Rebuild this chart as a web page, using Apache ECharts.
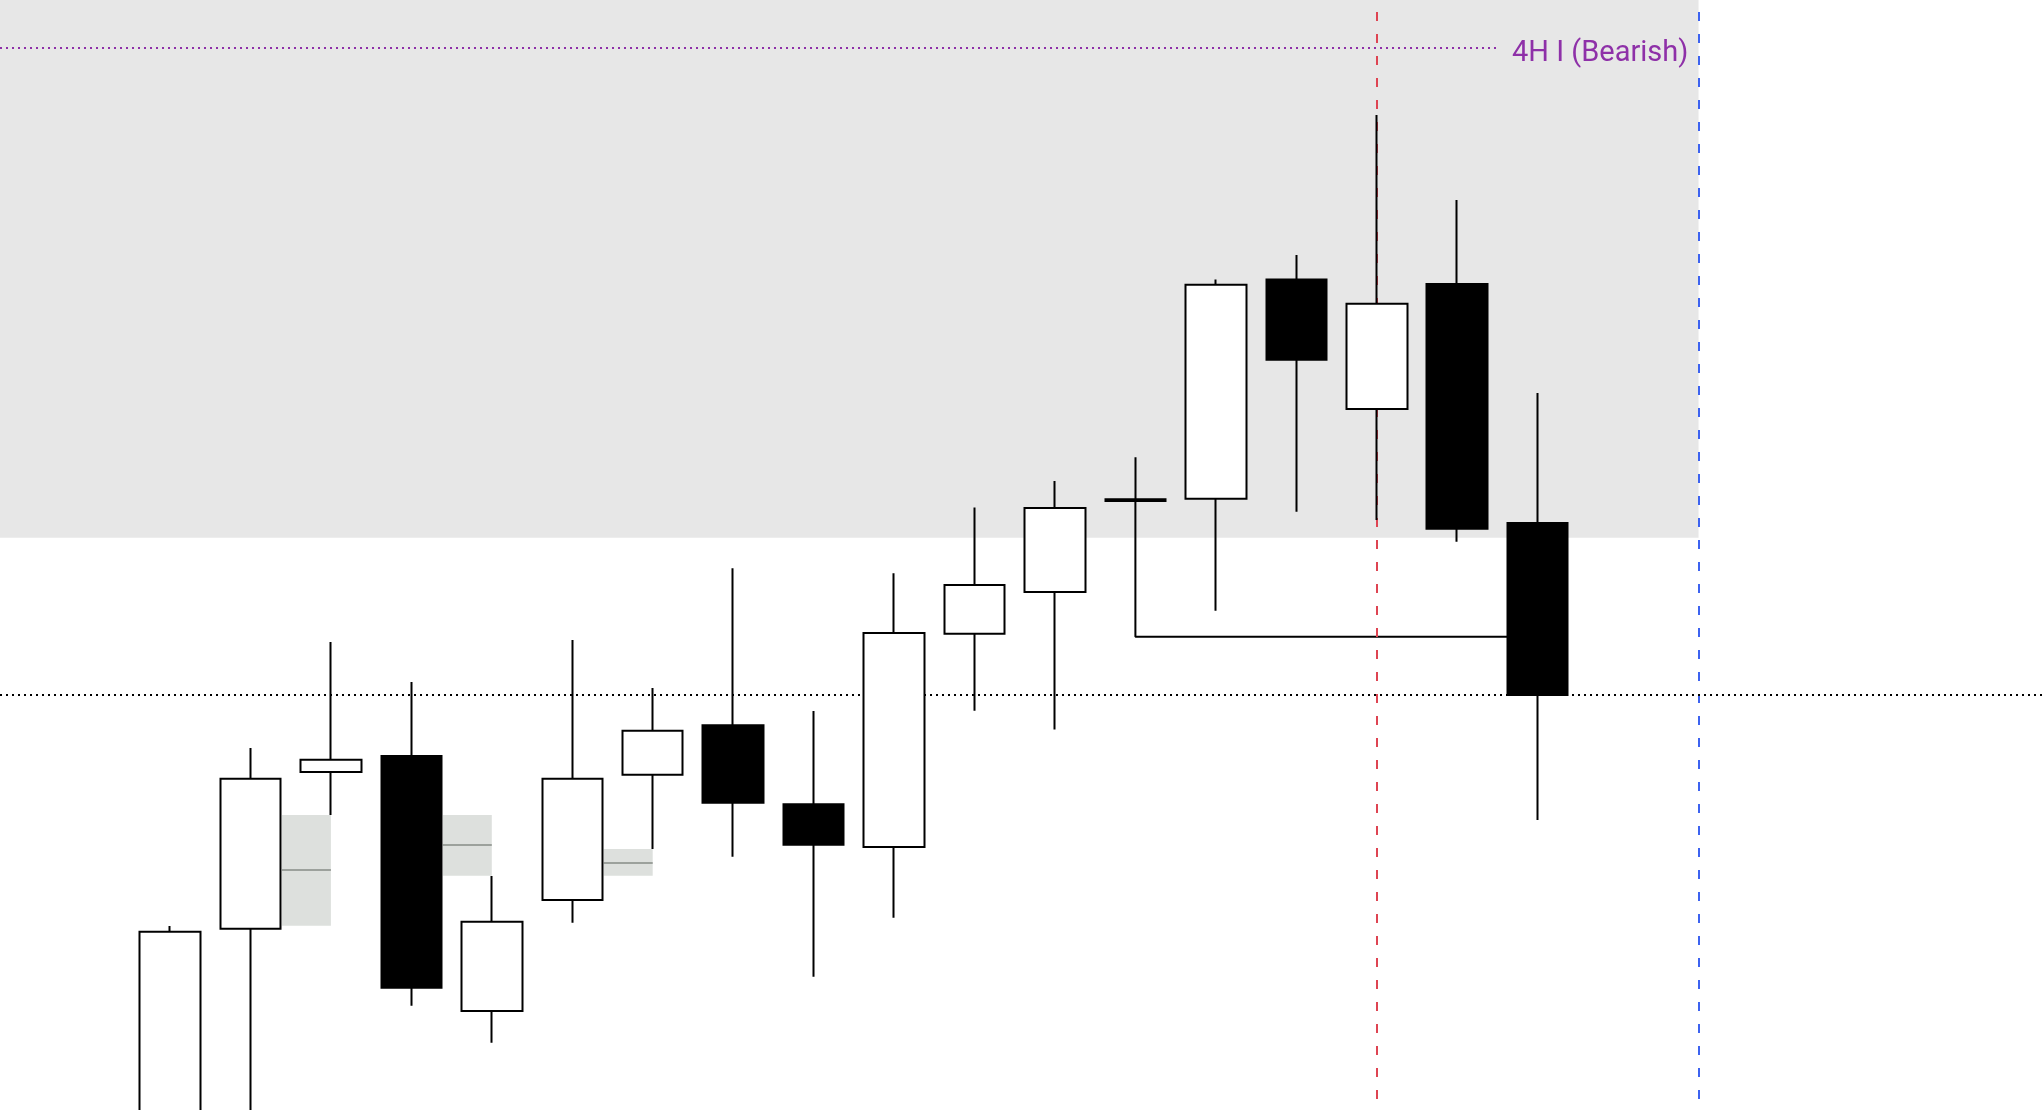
<!DOCTYPE html>
<html>
<head>
<meta charset="utf-8">
<script src="https://cdn.jsdelivr.net/npm/echarts@6/dist/echarts.min.js"></script>
<style>
html,body{margin:0;padding:0;background:#ffffff;}
#chart{width:2044px;height:1110px;}
</style>
</head>
<body>
<div id="chart"></div>
<script>
// ---- data ----
const categories = ['08:00','08:15','08:30','08:45','09:00','09:15','09:30','09:45','10:00','10:15','10:30','10:45','11:00','11:15','11:30','11:45','12:00','12:15'];
const opens  = [2296.00,2316.33,2330.45,2331.89,2308.92,2318.92,2330.21,2334.66,2327.54,2323.69,2342.91,2346.67,2354.86,2355.07,2374.83,2363.15,2374.41,2352.88];
const closes = [2316.06,2329.85,2331.56,2311.02,2316.96,2329.85,2334.17,2327.68,2323.90,2342.97,2347.30,2354.23,2355.03,2374.35,2367.60,2372.64,2352.37,2337.39];
const lows   = [2292.00,2291.00,2326.58,2309.40,2306.06,2316.87,2323.51,2322.82,2312.01,2317.33,2335.97,2334.29,2354.86,2344.98,2353.90,2353.15,2351.20,2326.13];
const highs  = [2316.58,2332.61,2342.16,2338.56,2321.08,2342.34,2338.02,2348.80,2335.95,2348.35,2354.29,2356.67,2358.80,2374.83,2377.03,2389.64,2381.98,2364.59];

// fair value gaps: bar index that opens the gap, top, bottom, midline
const gapBars    = [1, 3, 5];
const gapTops    = [2326.58, 2326.58, 2323.51];
const gapBottoms = [2316.61, 2321.11, 2321.11];
const gapMids    = [2321.65, 2323.87, 2322.25];

// zone and levels (x in bar units, bar 0 = first candle)
const zoneBottom = 2351.56;
const zoneTop = 2400;
const zoneEndBar = 19;
const bearishLevel = 2395.66;
const bearishLabel = '4H I (Bearish)';
const bearishEndBar = 16.52;
const dottedLevel = 2337.39;
const swingBar = 12;
const swingLevel = 2342.64;
const swingEndBar = 17;
const redLineBar = 15;
const blueLineBar = 19;
const vLineBottom = 2301;

const yMin = 2300, yMax = 2400;

// ---- layout ----
const W = 2044;
const bandW = 80.45;
const firstCenter = 170;
const barWidth = 61;
const gridLeft = firstCenter - bandW / 2;
const gridRight = W - gridLeft - bandW * categories.length;
const halfBody = (barWidth / 2 + 1) / bandW;
const xMin = -firstCenter / bandW;
const xMax = (W - firstCenter) / bandW;

const candleData = categories.map((c, i) => [opens[i], closes[i], lows[i], highs[i]]);

const gapAreas = gapBars.map((b, i) => [
  { coord: [b + halfBody, gapTops[i]], itemStyle: { color: '#dde0dd' } },
  { coord: [b + 1, gapBottoms[i]] }
]);
const gapLines = gapBars.map((b, i) => [
  { coord: [b + halfBody, gapMids[i]] },
  { coord: [b + 1, gapMids[i]] }
]);

const chart = echarts.init(document.getElementById('chart'), null, { renderer: 'canvas' });
chart.setOption({
  animation: false,
  backgroundColor: '#ffffff',
  grid: [
    { left: gridLeft, right: gridRight, top: 0, bottom: 0, containLabel: false },
    { left: 0, right: 0, top: 0, bottom: 0, containLabel: false }
  ],
  xAxis: [
    { type: 'category', gridIndex: 0, data: categories, boundaryGap: true, show: false },
    { type: 'value', gridIndex: 1, min: xMin, max: xMax, show: false, splitLine: { show: false } }
  ],
  yAxis: [
    { type: 'value', gridIndex: 0, min: yMin, max: yMax, show: false, splitLine: { show: false } },
    { type: 'value', gridIndex: 1, min: yMin, max: yMax, show: false, splitLine: { show: false } }
  ],
  series: [
    {
      name: 'zones', type: 'line', xAxisIndex: 1, yAxisIndex: 1, data: [], z: 1, silent: true,
      markArea: {
        silent: true,
        data: [
          [{ coord: [xMin, zoneBottom], itemStyle: { color: '#e7e7e7' } }, { coord: [zoneEndBar, zoneTop] }]
        ].concat(gapAreas)
      },
      markLine: {
        silent: true, symbol: ['none', 'none'], label: { show: false },
        lineStyle: { color: '#9ca19c', width: 2, type: 'solid' },
        data: gapLines
      }
    },
    {
      name: 'verticals', type: 'line', xAxisIndex: 1, yAxisIndex: 1, data: [], z: 2, silent: true,
      markLine: {
        silent: true, symbol: ['none', 'none'], label: { show: false },
        data: [
          [{ coord: [redLineBar, vLineBottom], lineStyle: { color: '#de4452', width: 2, type: [9, 13] } }, { coord: [redLineBar, yMax] }],
          [{ coord: [blueLineBar, vLineBottom], lineStyle: { color: '#3d63f0', width: 2, type: [9, 13] } }, { coord: [blueLineBar, yMax] }]
        ]
      }
    },
    {
      name: 'levels', type: 'line', xAxisIndex: 1, yAxisIndex: 1, data: [], z: 3, silent: true,
      markLine: {
        silent: true, symbol: ['none', 'none'],
        data: [
          [{ coord: [xMin, dottedLevel], lineStyle: { color: '#000000', width: 2, type: [2, 4] }, label: { show: false } }, { coord: [xMax, dottedLevel] }],
          [{ coord: [xMin, bearishLevel], lineStyle: { color: '#8e30a8', width: 2, type: [2, 4] },
             label: { show: true, position: 'end', distance: 13, formatter: '{t|' + bearishLabel + '}',
                      rich: { t: { color: '#8e30a8', fontSize: 29, fontFamily: 'Roboto', padding: [12, 0, 0, 0] } } } },
           { coord: [bearishEndBar, bearishLevel] }]
        ]
      }
    },
    {
      name: 'swing', type: 'line', xAxisIndex: 1, yAxisIndex: 1, z: 4, silent: true,
      data: [[swingBar, opens[swingBar]], [swingBar, swingLevel], [swingEndBar, swingLevel]],
      symbol: 'none', lineStyle: { color: '#000000', width: 2 }
    },
    {
      name: 'price', type: 'candlestick', xAxisIndex: 0, yAxisIndex: 0, z: 5, silent: true,
      barWidth: barWidth,
      data: candleData,
      itemStyle: { color: '#ffffff', color0: '#000000', borderColor: '#000000', borderColor0: '#000000', borderWidth: 2 }
    }
  ]
});
</script>
</body>
</html>
